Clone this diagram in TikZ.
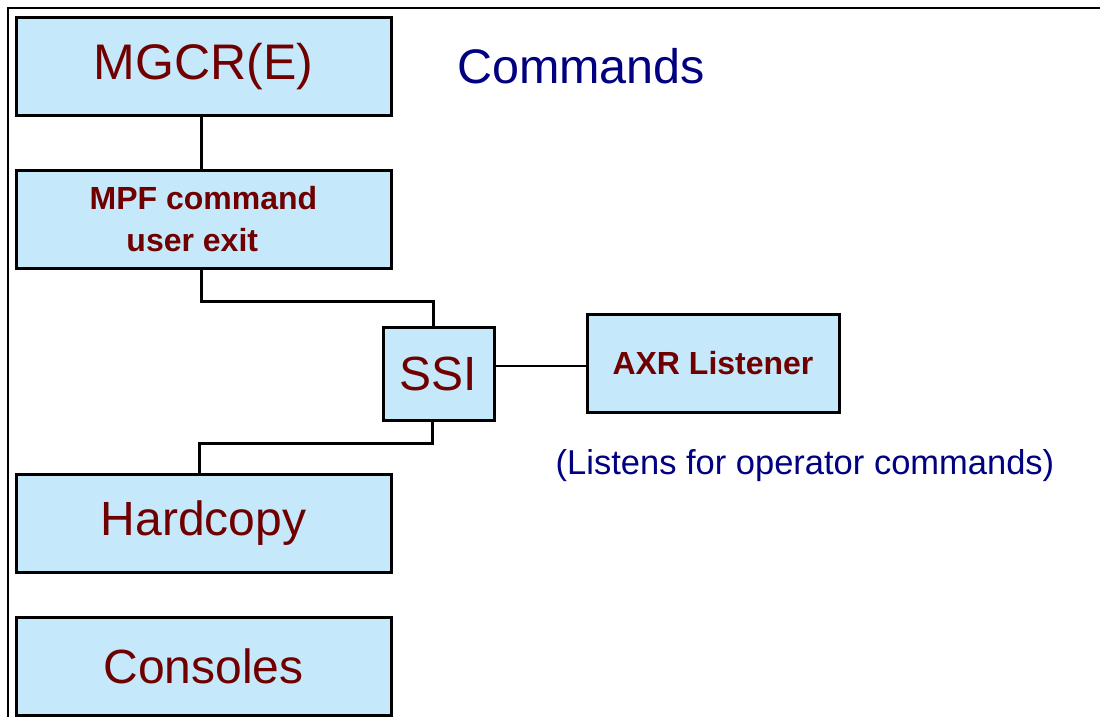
\documentclass[tikz,border=0pt]{standalone}
\usepackage{fontspec}
\setmainfont{Liberation Sans}
\definecolor{boxfill}{HTML}{C6E8FB}
\definecolor{txtred}{HTML}{700000}
\definecolor{navy}{HTML}{000080}
\usetikzlibrary{positioning}
\tikzset{
  blk/.style={draw=black,line width=3pt,fill=boxfill,text=txtred,inner sep=0pt,align=center,
    minimum width=375pt,minimum height=98pt,font=\fontsize{48}{54}\selectfont},
  sblk/.style={blk,font=\fontsize{32}{42}\selectfont\bfseries},
  note/.style={text=navy,inner sep=0pt},
  link/.style={draw=black,line width=2.4pt},
}
\begin{document}
\begin{tikzpicture}[x=1pt,y=-1pt]
\useasboundingbox (0,0) rectangle (1100,717);
\draw[line width=1.5pt] (8,717) -- (8,8) -- (1100,8);
\node[blk,font=\fontsize{50}{56}\selectfont] (mgcr) at (203.5,66.5) {MGCR(E)};
\node[sblk] (mpf) at (203.5,219) {MPF command\\user exit\hspace*{0.7em}};
\node[blk,minimum width=111pt,minimum height=93pt] (ssi) at (438.5,373.5) {SSI};
\node[sblk,minimum width=252pt] (axr) at (713,363) {AXR Listener};
\node[blk] (hard) at (203.5,523.5) {Hardcopy};
\node[blk] (cons) at (203.5,666) {Consoles};
\node[note,font=\fontsize{48.5}{54}\selectfont] (cmds) at (581,66) {Commands};
\node[note,font=\fontsize{34.5}{40}\selectfont] (listen) at (805,466) {(Listens for operator commands)};
\draw[link] ([xshift=-2pt]mgcr.south) -- ([xshift=-2pt]mpf.north);
\draw[link] ([xshift=-2pt]mpf.south) -- ++(0,32) -| ([xshift=-5pt]ssi.north);
\draw[link] ([xshift=-6pt]ssi.south) -- ++(0,22) -| ([xshift=-4pt]hard.north);
\draw[link] ([yshift=-3pt]axr.west -| ssi.east) -- ([yshift=-3pt]axr.west);
\end{tikzpicture}
\end{document}
